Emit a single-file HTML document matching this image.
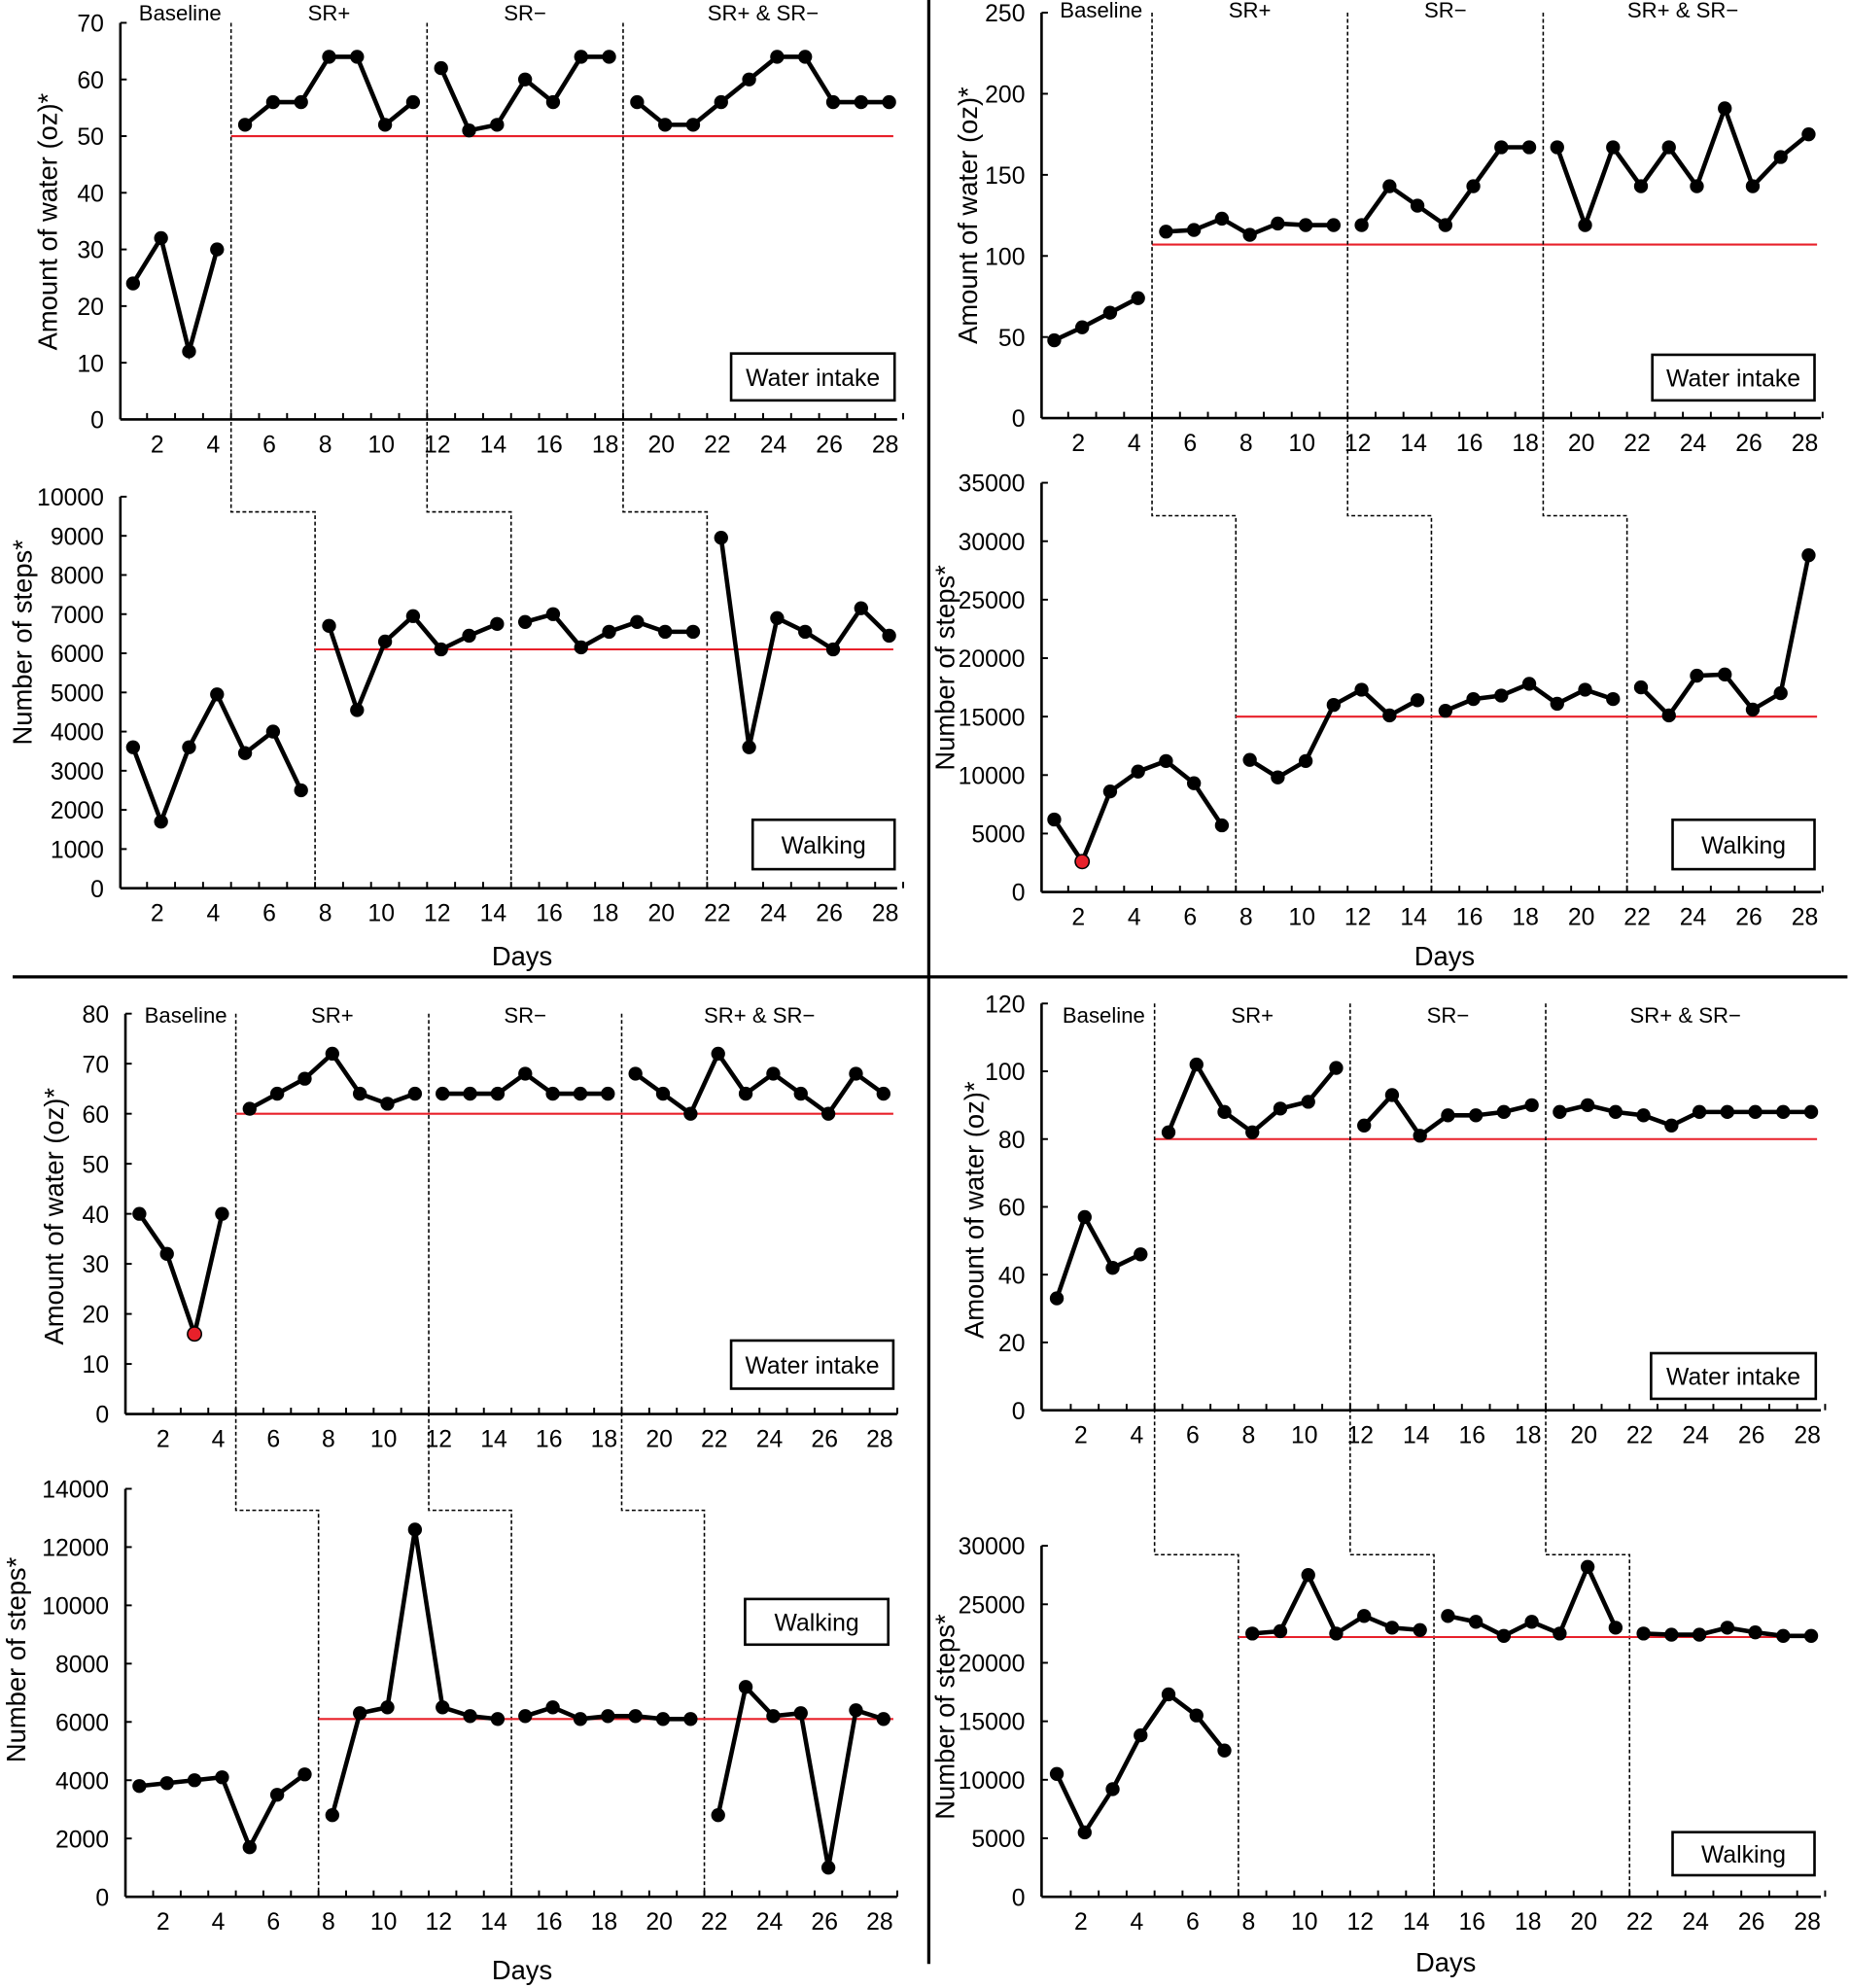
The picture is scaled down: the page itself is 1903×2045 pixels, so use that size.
<!DOCTYPE html>
<html><head><meta charset="utf-8"><style>
html,body{margin:0;padding:0;background:#fff}
svg{display:block}
text{font-family:"Liberation Sans",sans-serif;fill:#000}
</style></head><body>
<svg id="c" width="1903" height="2045" viewBox="0 0 1460 1569" preserveAspectRatio="none" xmlns="http://www.w3.org/2000/svg"></svg>
<script>
const days=[1,2,3,4,5,6,7,8,9,10,11,12,13,14,15,16,17,18,19,20,21,22,23,24,25,26,27,28];
const xTickLabels=[2,4,6,8,10,12,14,16,18,20,22,24,26,28];
const waterA=[24,32,12,30,52,56,56,64,64,52,56,62,51,52,60,56,64,64,56,52,52,56,60,64,64,56,56,56];
const walkA=[3600,1700,3600,4950,3450,4000,2500,6700,4550,6300,6950,6100,6450,6750,6800,7000,6150,6550,6800,6550,6550,8950,3600,6900,6550,6100,7150,6450];
const waterB=[48,56,65,74,115,116,123,113,120,119,119,119,143,131,119,143,167,167,167,119,167,143,167,143,191,143,161,175];
const walkB=[6200,2600,8600,10300,11200,9300,5700,11300,9800,11200,16000,17300,15100,16400,15500,16500,16800,17800,16100,17300,16500,17500,15100,18500,18600,15600,17000,28800];
const waterC=[40,32,16,40,61,64,67,72,64,62,64,64,64,64,68,64,64,64,68,64,60,72,64,68,64,60,68,64];
const walkC=[3800,3900,4000,4100,1700,3500,4200,2800,6300,6500,12600,6500,6200,6100,6200,6500,6100,6200,6200,6100,6100,2800,7200,6200,6300,1000,6400,6100];
const waterD=[33,57,42,46,82,102,88,82,89,91,101,84,93,81,87,87,88,90,88,90,88,87,84,88,88,88,88,88];
const walkD=[10500,5500,9200,13800,17300,15500,12500,22500,22700,27500,22500,24000,23000,22800,24000,23500,22300,23500,22500,28200,23000,22500,22400,22400,23000,22600,22300,22300];
const redLevels=[50,6100,107,15000,60,6100,80,22200];
const waterPhases=[4.5,11.5,18.5];
const walkPhases=[7.5,14.5,21.5];
const phaseNames=["Baseline","SR+","SR\u2212","SR+ & SR\u2212"];

const NS="http://www.w3.org/2000/svg";
const svg=document.getElementById('c');
function el(tag,attrs,parent){const e=document.createElementNS(NS,tag);for(const k in attrs)e.setAttribute(k,attrs[k]);(parent||svg).appendChild(e);return e;}
function txt(s,x,y,size,anchor,parent,rot){const t=el('text',{x:x,y:y,'font-size':size,'text-anchor':anchor||'middle'},parent);if(rot)t.setAttribute('transform','rotate(-90 '+x+' '+y+')');t.textContent=s;return t;}

const cols=[
 {ax:95,d1:105,dx:22.1,right:708},
 {ax:822,d1:832,dx:22.05,right:1437},
 {ax:99,d1:110,dx:21.75,right:708},
 {ax:822,d1:834,dx:22.05,right:1437}
];
const panels=[
 {col:0,kind:'water',vals:waterA,red:redLevels[0],y0:331,yT:18,max:70,step:10,title:[37,175],box:[577,279,129,37,'Water intake'],red0:waterPhases[0],lab:true,labY:16},
 {col:0,kind:'walk',vals:walkA,red:redLevels[1],y0:701,yT:392,max:10000,step:1000,title:[17,507],box:[594,647,112,39,'Walking'],red0:walkPhases[0],days:[412,762]},
 {col:1,kind:'water',vals:waterB,red:redLevels[2],y0:330,yT:10,max:250,step:50,title:[763,170],box:[1304,280,128,36,'Water intake'],red0:waterPhases[0],lab:true,labY:14},
 {col:1,kind:'walk',vals:walkB,red:redLevels[3],y0:704,yT:381,max:35000,step:5000,title:[745,527],box:[1320,647,112,39,'Walking'],red0:walkPhases[0],days:[1140,762]},
 {col:2,kind:'water',vals:waterC,red:redLevels[4],y0:1116,yT:800,max:80,step:10,title:[42,960],box:[577,1058,128,38,'Water intake'],red0:waterPhases[0],lab:true,labY:807,redIdx:2},
 {col:2,kind:'walk',vals:walkC,red:redLevels[5],y0:1497,yT:1175,max:14000,step:2000,title:[12,1310],box:[588,1262,113,36,'Walking'],red0:walkPhases[0],days:[412,1562]},
 {col:3,kind:'water',vals:waterD,red:redLevels[6],y0:1113,yT:792,max:120,step:20,title:[768,955],box:[1303,1068,130,36,'Water intake'],red0:waterPhases[0],lab:true,labY:807},
 {col:3,kind:'walk',vals:walkD,red:redLevels[7],y0:1497,yT:1220,max:30000,step:5000,title:[745,1355],box:[1320,1446,112,34,'Walking'],red0:walkPhases[0],days:[1141,1556]}
];
panels[3].redIdx=1;
const connY=[404,407,1192,1227];

panels.forEach((p,pi)=>{
 const c=cols[p.col];
 const g=el('g',{});
 
 
 const xs=d=>c.d1+(d-1)*c.dx;
 const ys=v=>p.y0-(v/p.max)*(p.y0-p.yT);
 el('line',{x1:c.ax,y1:p.yT,x2:c.ax,y2:p.y0,stroke:'#000','stroke-width':2},g);
 el('line',{x1:c.ax,y1:p.y0,x2:c.right,y2:p.y0,stroke:'#000','stroke-width':2},g);
 for(let v=0;v<=p.max+1e-9;v+=p.step){
  const y=ys(v);
  el('line',{x1:c.ax,y1:y,x2:c.ax+5,y2:y,stroke:'#000','stroke-width':1.5},g);
  txt(String(v),c.ax-13,y+7,19,'end',g);
 }
 for(let d=1;d<=28;d++){const x=xs(d)+c.dx/2;el('line',{x1:x,y1:p.y0,x2:x,y2:p.y0-5,stroke:'#000','stroke-width':1.5},g);}
 xTickLabels.forEach(d=>txt(String(d),xs(d)-3,p.y0+26,19,'middle',g));
 txt(p.kind==='water'?'Amount of water (oz)*':'Number of steps*',p.title[0]+8,p.title[1],21,'middle',g,true);
 const rl=el('line',{x1:xs(p.red0),y1:ys(p.red),x2:c.right-3,y2:ys(p.red),stroke:'#e8202a','stroke-width':1.6},g);
 
 
 const phases=p.kind==='water'?waterPhases:walkPhases;
 const bounds=[0.5].concat(phases).concat([28.5]);
 if(p.kind==='water'){
  phases.forEach((b,i)=>{
   const wp=panels[pi+1];const wx=cols[p.col].d1+(walkPhases[i]-1)*c.dx;
   const pl=el('polyline',{points:[xs(b),p.yT,xs(b),connY[p.col],wx,connY[p.col],wx,wp.y0].join(' '),fill:'none',stroke:'#000','stroke-width':1.2,'stroke-dasharray':'3,2'},svg);
   
   
  });
  phaseNames.forEach((n,i)=>{const t=txt(n,(xs(bounds[i])+xs(bounds[i+1]))/2+(i==0?4:0),p.labY,17,'middle',g);});
 }
 for(let s=0;s<4;s++){
  const pts=[];
  days.forEach((d,i)=>{if(d>bounds[s]&&d<bounds[s+1])pts.push([xs(d),ys(p.vals[i]),i]);});
  const ln=el('polyline',{points:pts.map(q=>q[0]+','+q[1]).join(' '),fill:'none',stroke:'#000','stroke-width':3.5,'stroke-linejoin':'miter'},g);
  
  
  pts.forEach(q=>{
   const isRed=p.redIdx!==undefined&&q[2]===p.redIdx;
   const m=el('circle',{cx:q[0],cy:q[1],r:5.5,fill:isRed?'#e8202a':'#000',stroke:'#000','stroke-width':isRed?1.2:0},g);
   
   
  });
 }
 const b=p.box;
 const r=el('rect',{x:b[0],y:b[1],width:b[2],height:b[3],fill:'#fff',stroke:'#000','stroke-width':2},g);
 
 
 txt(b[4],b[0]+b[2]/2,b[1]+b[3]/2+7,19,'middle',g);
 if(p.days){const t=txt('Days',p.days[0],p.days[1],21,'middle',g);}
});
const v=el('line',{x1:733,y1:0,x2:733,y2:1550,stroke:'#000','stroke-width':2.5});


const h=el('line',{x1:10,y1:771,x2:1458,y2:771,stroke:'#000','stroke-width':2.5});


</script>
</body></html>
